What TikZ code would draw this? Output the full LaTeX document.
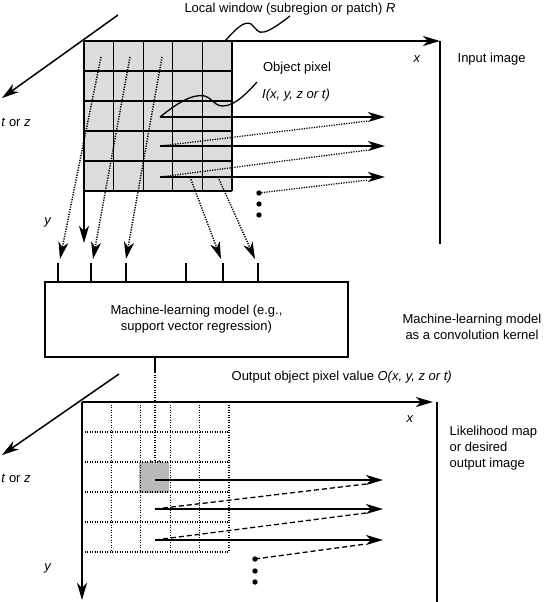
\documentclass[tikz,border=0pt]{standalone}
\usepackage{fontspec}
\setmainfont{Liberation Sans}
\usetikzlibrary{arrows.meta}
\definecolor{patch}{HTML}{DCDCDC}
\definecolor{target}{HTML}{B9B9B9}

\begin{document}
\begin{tikzpicture}[x=1pt,y=-1pt,line width=1.3pt, every node/.style={inner sep=0pt,font=\fontsize{13}{16}\selectfont},
  axis/.style={line width=1.5pt,-{Stealth[length=17pt,width=10pt,inset=5pt]}},
  dots/.style={dash pattern=on 1.2pt off 1.3pt}, dashline/.style={dash pattern=on 5pt off 3pt}]
\useasboundingbox (0,0) rectangle (548,602);
% input image with the local window
\coordinate (in) at (84,41); \coordinate (pix) at (160,117);
\fill[patch] (in) rectangle (232,191);
\foreach \i in {0,...,5} {\draw (84+29.6*\i,41) -- (84+29.6*\i,191); \draw (84,41+30*\i) -- (232,41+30*\i);}
\draw[axis] (in) -- (440,41); \draw[line width=1.6pt] (440,41) -- (440,244);
\draw[axis] (in) -- (84,243); \draw[axis] (118,15) -- (2,98);
\node (inx) at (417,59) {\textit{x}}; \node (iny) at (48,222) {\textit{y}};
\node (intz) at (16,122) {\textit{t} or \textit{z}};
\node[anchor=west] (inlab) at (457,59) {Input image};
\node (win) at (290,9) {Local window (subregion or patch) \textit{R}};
\node (objlab) at (297,68) {Object pixel}; \node (obj) at (296,95) {\textit{I(x, y, z or t)}};
\draw (225,41) .. controls (235,30) and (244,20) .. (251,24) .. controls (256,28) and (258,34) .. (264,32) .. controls (272,30) and (282,22) .. (290,16);
\draw (pix) .. controls (175,105) and (192,93) .. (205,96) .. controls (212,98) and (214,106) .. (223,106) .. controls (235,106) and (248,92) .. (257,82);
% scanning order
\foreach \y in {117,146,177} \draw[axis] (160,\y) -- (385,\y);
\draw[dots] (160,146) -- (368,121); \draw[dots] (160,177) -- (368,150); \draw[dots] (259,193) -- (368,180);
\foreach \y in {193,204,215} \fill (259,\y) circle (2.7pt);
% window pixels into the model
\draw[dots,axis] (101,57) -- (60,259); \draw[dots,axis] (130,57) -- (93,259); \draw[dots,axis] (162,57) -- (126,259);
\draw[dots,axis] (190,177) -- (221,259); \draw[dots,axis] (218,177) -- (255,259);
\node[draw,minimum width=303pt,minimum height=75pt,align=center] (model) at (196.5,319.5) {Machine-learning model (e.g.,\\support vector regression)};
\foreach \x in {58,91,126,186,223,258} \draw (\x,263) -- (\x,282);
\node[align=center] (kern) at (472,327) {Machine-learning model\\as a convolution kernel};
\draw (155,357) -- (155,372); \draw[dots,axis] (155,372) -- (155,477);
\node[anchor=west] (outlab) at (231,377) {Output object pixel value \textit{O(x, y, z or t)}};
% likelihood map
\coordinate (out) at (82,402);
\fill[target] (139,462) rectangle (169,493);
\foreach \i in {1,...,5} {\draw[dots,line width=1.1pt] (82+29.4*\i,402) -- (82+29.4*\i,552); \draw[dots,line width=1.1pt] (82,402+30*\i) -- (229,402+30*\i);}
\draw[axis] (out) -- (433,402); \draw[line width=1.6pt] (437,402) -- (437,602);
\draw[axis] (out) -- (82,600); \draw[axis] (119,374) -- (2,455);
\node (outx) at (410,419) {\textit{x}}; \node (outy) at (48,568) {\textit{y}};
\node (outtz) at (16,478) {\textit{t} or \textit{z}};
\node[anchor=north west,align=left] (maplab) at (449,425) {Likelihood map\\or desired\\output image};
\foreach \y in {480,509,540} \draw[axis] (155,\y) -- (383,\y);
\draw[dashline] (155,509) -- (366,484); \draw[dashline] (155,540) -- (366,513); \draw[dashline] (255,559) -- (366,544);
\foreach \y in {559,571,582} \fill (255,\y) circle (2.7pt);
\end{tikzpicture}
\end{document}
